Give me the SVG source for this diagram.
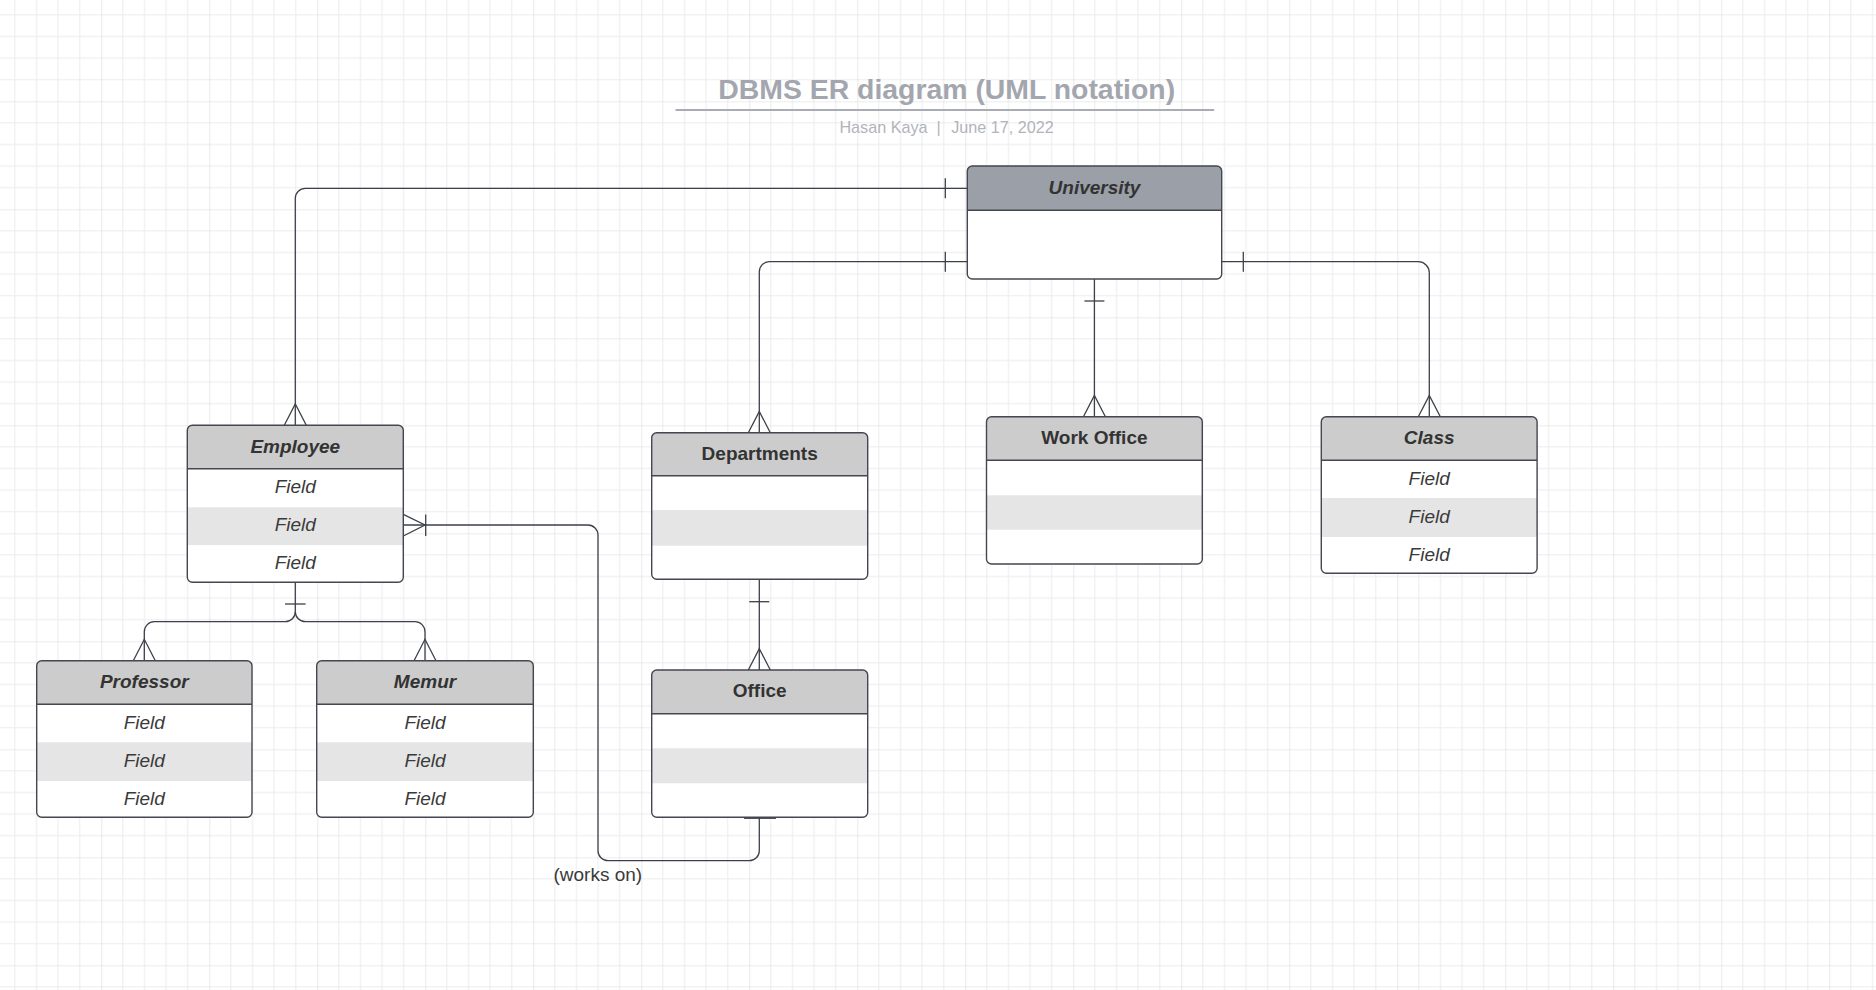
<svg xmlns="http://www.w3.org/2000/svg" width="1876" height="990" viewBox="0 0 1876 990">
<defs>
  <pattern id="grid" patternUnits="userSpaceOnUse" x="-6.7" y="-6.7" width="108" height="108">
    <path d="M21.6,0V108M43.2,0V108M64.8,0V108M86.4,0V108M0,21.6H108M0,43.2H108M0,64.8H108M0,86.4H108" stroke="#ebebeb" stroke-width="1" fill="none"/>
    <path d="M0,0V108M0,0H108" stroke="#dadada" stroke-width="1.2" fill="none"/>
  </pattern>
</defs>
<style>
  .hdr { fill: #cccccc; }
  .hdrU { fill: #9ba0a8; }
  .body { fill: #ffffff; }
  .shade { fill: #e5e5e5; }
  .outline { fill: none; stroke: #44474f; stroke-width: 1.4; }
  .sep { stroke: #44474f; stroke-width: 1.4; }
  .ht { font-family: "Liberation Sans", Arial, sans-serif; font-size: 19px; font-weight: bold; fill: #333333; text-anchor: middle; }
  .it { font-style: italic; }
  .ft { font-family: "Liberation Sans", Arial, sans-serif; font-size: 19px; font-style: italic; fill: #3a3a3a; text-anchor: middle; }
  .conn path { fill: none; stroke: #3d4049; stroke-width: 1.3; }
  .conn path.bar { stroke-width: 2.6; }
</style>
<rect x="0" y="0" width="1876" height="990" fill="#ffffff"/>
<rect x="0" y="0" width="1876" height="990" fill="url(#grid)"/>

<g id="title">
  <text x="946.7" y="99.3" font-family="Liberation Sans, Arial, sans-serif" font-size="28.4" font-weight="bold" fill="#a3a6ae" text-anchor="middle">DBMS ER diagram (UML notation)</text>
  <path d="M675.5,110H1214.2" stroke="#a9acb4" stroke-width="2"/>
  <text y="132.7" font-family="Liberation Sans, Arial, sans-serif" font-size="16.2" fill="#b1b4bb"><tspan x="839.4">Hasan Kaya</tspan><tspan x="936.5">|</tspan><tspan x="951.2">June 17, 2022</tspan></text>
</g>

<g id="connectors" class="conn">
  <!-- University - Employee -->
  <path d="M967.3,188.3H305.3A10,10 0 0 0 295.3,198.3V425.3"/>
  <path d="M945.3,178.3V198.3"/>
  <path d="M284.3,425.3L295.3,404L306.3,425.3"/>
  <!-- University - Departments -->
  <path d="M967.3,261.7H769.3A10,10 0 0 0 759.3,271.7V432.7"/>
  <path d="M945.3,251.7V271.7"/>
  <path d="M748.3,432.7L759.3,411.5L770.3,432.7"/>
  <!-- University - Work Office -->
  <path d="M1094.4,279V416.7"/>
  <path d="M1084.4,301H1104.4"/>
  <path d="M1083.4,416.7L1094.4,395.5L1105.4,416.7"/>
  <!-- University - Class -->
  <path d="M1221.7,261.7H1418.3A11,11 0 0 1 1429.3,272.7V416.7"/>
  <path d="M1243.3,251.7V271.7"/>
  <path d="M1418.3,416.7L1429.3,395.5L1440.3,416.7"/>
  <!-- Employee - Professor / Memur -->
  <path d="M295.3,582.3V611.7A10,10 0 0 1 285.3,621.7H154.3A10,10 0 0 0 144.3,631.7V660.7"/>
  <path d="M295.3,611.7A10,10 0 0 0 305.3,621.7H415A10,10 0 0 1 425,631.7V660.7"/>
  <path d="M285,604H305.6"/>
  <path d="M133.3,660.7L144.3,639.3L155.3,660.7"/>
  <path d="M414,660.7L425,639.3L436,660.7"/>
  <!-- Departments - Office -->
  <path d="M759.3,579.3V670"/>
  <path d="M749.3,601.7H769.3"/>
  <path d="M748.3,670L759.3,648.7L770.3,670"/>
  <!-- Office - Employee (works on) -->
  <path d="M759.3,817.3V850.7A10,10 0 0 1 749.3,860.7H608A10,10 0 0 1 598,850.7V535A10,10 0 0 0 588,525H403.3"/>
  <path class="bar" d="M744,817.6H776"/>
  <path d="M403.3,514.3L425,525L403.3,536"/>
  <path d="M425.7,514.5V536"/>
  <text x="597.8" y="881.2" font-family="Liberation Sans, Arial, sans-serif" font-size="19" fill="#3a3a3a" text-anchor="middle">(works on)</text>
</g>

<g id="university">
  <rect class="body" x="967.3" y="166" width="254.4" height="113" rx="5"/>
  <path class="hdrU" d="M967.3,210.3V171A5,5 0 0 1 972.3,166H1216.7A5,5 0 0 1 1221.7,171V210.3Z"/>
  <path class="sep" d="M967.3,210.3H1221.7"/>
  <rect class="outline" x="967.3" y="166" width="254.4" height="113" rx="5"/>
  <text class="ht it" x="1094.5" y="193.5">University</text>
</g>

<g id="employee">
  <rect class="body" x="187.3" y="425.3" width="216" height="157" rx="5"/>
  <path class="hdr" d="M187.3,468.7V430.3A5,5 0 0 1 192.3,425.3H398.3A5,5 0 0 1 403.3,430.3V468.7Z"/>
  <rect class="shade" x="187.3" y="507.3" width="216" height="37.8"/>
  <path class="sep" d="M187.3,468.7H403.3"/>
  <rect class="outline" x="187.3" y="425.3" width="216" height="157" rx="5"/>
  <text class="ht it" x="295.3" y="452.5">Employee</text>
  <text class="ft" x="295.3" y="492.7">Field</text>
  <text class="ft" x="295.3" y="530.7">Field</text>
  <text class="ft" x="295.3" y="568.5">Field</text>
</g>

<g id="professor">
  <rect class="body" x="36.7" y="660.7" width="215.3" height="156.6" rx="5"/>
  <path class="hdr" d="M36.7,704.3V665.7A5,5 0 0 1 41.7,660.7H247A5,5 0 0 1 252,665.7V704.3Z"/>
  <rect class="shade" x="36.7" y="742.3" width="215.3" height="38.7"/>
  <path class="sep" d="M36.7,704.3H252"/>
  <rect class="outline" x="36.7" y="660.7" width="215.3" height="156.6" rx="5"/>
  <text class="ht it" x="144.3" y="687.7">Professor</text>
  <text class="ft" x="144.3" y="728.7">Field</text>
  <text class="ft" x="144.3" y="766.7">Field</text>
  <text class="ft" x="144.3" y="804.7">Field</text>
</g>

<g id="memur">
  <rect class="body" x="316.7" y="660.7" width="216.6" height="156.6" rx="5"/>
  <path class="hdr" d="M316.7,704.3V665.7A5,5 0 0 1 321.7,660.7H528.3A5,5 0 0 1 533.3,665.7V704.3Z"/>
  <rect class="shade" x="316.7" y="742.3" width="216.6" height="38.7"/>
  <path class="sep" d="M316.7,704.3H533.3"/>
  <rect class="outline" x="316.7" y="660.7" width="216.6" height="156.6" rx="5"/>
  <text class="ht it" x="425" y="687.7">Memur</text>
  <text class="ft" x="425" y="728.7">Field</text>
  <text class="ft" x="425" y="766.7">Field</text>
  <text class="ft" x="425" y="804.7">Field</text>
</g>

<g id="departments">
  <rect class="body" x="651.7" y="432.7" width="216" height="146.6" rx="5"/>
  <path class="hdr" d="M651.7,475.7V437.7A5,5 0 0 1 656.7,432.7H862.7A5,5 0 0 1 867.7,437.7V475.7Z"/>
  <rect class="shade" x="651.7" y="510" width="216" height="35.7"/>
  <path class="sep" d="M651.7,475.7H867.7"/>
  <rect class="outline" x="651.7" y="432.7" width="216" height="146.6" rx="5"/>
  <text class="ht" x="759.7" y="459.7">Departments</text>
</g>

<g id="office">
  <rect class="body" x="651.7" y="670" width="216" height="147.3" rx="5"/>
  <path class="hdr" d="M651.7,713.7V675A5,5 0 0 1 656.7,670H862.7A5,5 0 0 1 867.7,675V713.7Z"/>
  <rect class="shade" x="651.7" y="748.3" width="216" height="35"/>
  <path class="sep" d="M651.7,713.7H867.7"/>
  <rect class="outline" x="651.7" y="670" width="216" height="147.3" rx="5"/>
  <text class="ht" x="759.7" y="697.2">Office</text>
</g>

<g id="work-office">
  <rect class="body" x="986.5" y="416.7" width="215.8" height="147.3" rx="5"/>
  <path class="hdr" d="M986.5,460.3V421.7A5,5 0 0 1 991.5,416.7H1197.3A5,5 0 0 1 1202.3,421.7V460.3Z"/>
  <rect class="shade" x="986.5" y="495.3" width="215.8" height="34.4"/>
  <path class="sep" d="M986.5,460.3H1202.3"/>
  <rect class="outline" x="986.5" y="416.7" width="215.8" height="147.3" rx="5"/>
  <text class="ht" x="1094.4" y="443.7">Work Office</text>
</g>

<g id="class">
  <rect class="body" x="1321.3" y="416.7" width="215.8" height="156.6" rx="5"/>
  <path class="hdr" d="M1321.3,460.3V421.7A5,5 0 0 1 1326.3,416.7H1532.1A5,5 0 0 1 1537.1,421.7V460.3Z"/>
  <rect class="shade" x="1321.3" y="498" width="215.8" height="39"/>
  <path class="sep" d="M1321.3,460.3H1537.1"/>
  <rect class="outline" x="1321.3" y="416.7" width="215.8" height="156.6" rx="5"/>
  <text class="ht it" x="1429.2" y="443.7">Class</text>
  <text class="ft" x="1429.2" y="484.5">Field</text>
  <text class="ft" x="1429.2" y="522.7">Field</text>
  <text class="ft" x="1429.2" y="560.5">Field</text>
</g>
</svg>
